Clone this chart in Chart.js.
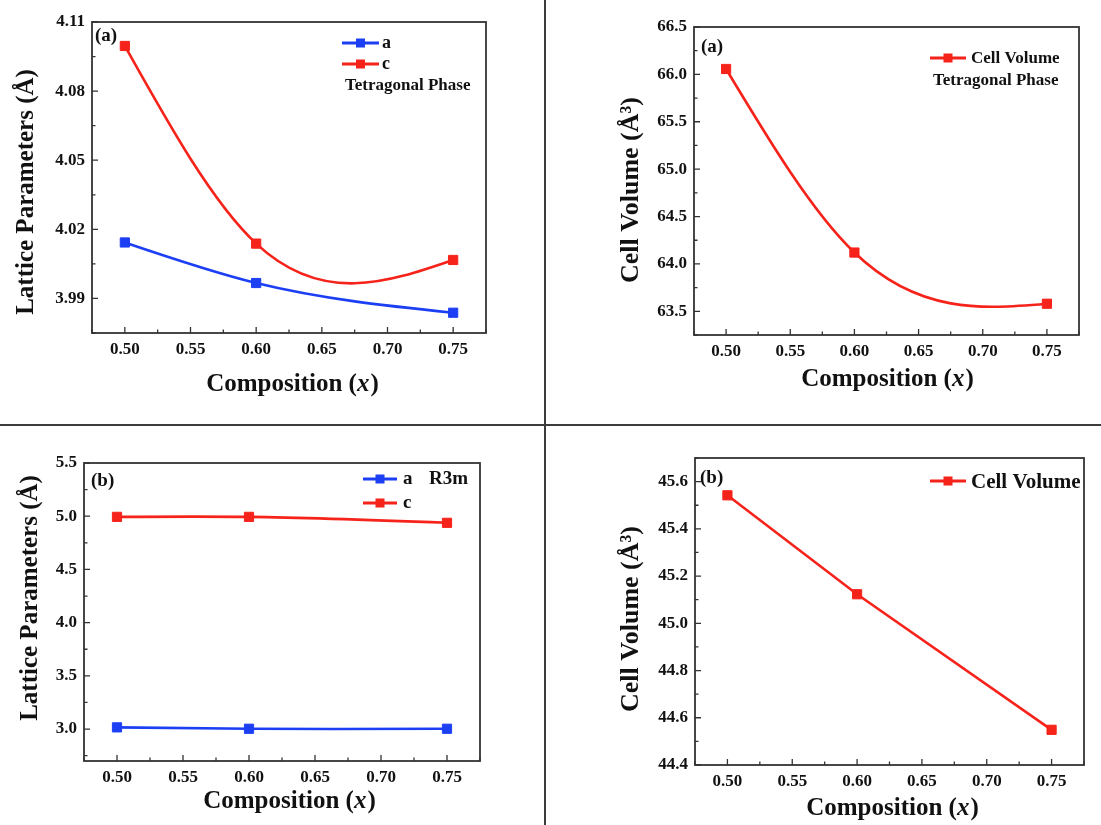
<!DOCTYPE html>
<html>
<head>
<meta charset="utf-8">
<script src="https://cdn.jsdelivr.net/npm/chart.js@4/dist/chart.umd.min.js"></script>
<style>
  html, body { margin: 0; padding: 0; background: #fff; }
  #page { position: relative; width: 1101px; height: 825px; overflow: hidden; }
  canvas { position: absolute; left: 0; top: 0; }
  .vline { position: absolute; left: 544px; top: 0; width: 2px; height: 825px; background: #3c3c3c; }
  .hline { position: absolute; left: 0; top: 424px; width: 1101px; height: 2px; background: #3c3c3c; }
</style>
</head>
<body>
<div id="page">
  <canvas id="c1" width="1101" height="825"></canvas>
  <canvas id="c2" width="1101" height="825"></canvas>
  <canvas id="c3" width="1101" height="825"></canvas>
  <canvas id="c4" width="1101" height="825"></canvas>
  <div class="vline"></div>
  <div class="hline"></div>
</div>
<script>
// values
const composition = [0.50, 0.60, 0.75];

const tetraA = [4.0143, 3.9967, 3.9838];
const tetraC = [4.0996, 4.0138, 4.0067];
const tetraVolume = [66.057, 64.12, 63.58];

const rhombA = [3.016, 3.003, 3.003];
const rhombC = [4.994, 4.994, 4.938];
const rhombVolume = [45.542, 45.123, 44.549];

const xTicks = [0.50, 0.55, 0.60, 0.65, 0.70, 0.75];
const yTicksTetraLat = [3.99, 4.02, 4.05, 4.08, 4.11];
const yTicksTetraVol = [63.5, 64.0, 64.5, 65.0, 65.5, 66.0, 66.5];
const yTicksRhombLat = [3.0, 3.5, 4.0, 4.5, 5.0, 5.5];
const yTicksRhombVol = [44.4, 44.6, 44.8, 45.0, 45.2, 45.4, 45.6];

const blue = '#1c3ff4';
const red = '#f6231b';
const ink = '#111';
const frame = '#333';
const serif = '"Liberation Serif", "Times New Roman", serif';

Chart.defaults.font.family = serif;
Chart.defaults.font.weight = 'bold';
Chart.defaults.color = ink;

function pts(ys) {
  return composition.map((x, i) => ({ x: x, y: ys[i] }));
}

function series(label, ys, color, spline) {
  return {
    label: label, data: pts(ys),
    borderColor: color, backgroundColor: color,
    borderWidth: 2.6, tension: spline ? 0.4 : 0, naturalSpline: spline,
    pointStyle: 'rect', pointRadius: 6.5, pointBorderWidth: 1,
    pointBorderColor: color, pointBackgroundColor: color
  };
}

// slopes of a natural cubic spline at the nodes (Origin's "spline" connection)
function splineSlopes(x, y) {
  const n = x.length;
  const h = [];
  for (let i = 0; i < n - 1; i++) h.push(x[i + 1] - x[i]);
  const M = new Array(n).fill(0);
  if (n > 2) {
    const a = [], b = [], c = [], r = [];
    for (let i = 1; i < n - 1; i++) {
      a.push(h[i - 1]); b.push(2 * (h[i - 1] + h[i])); c.push(h[i]);
      r.push(6 * ((y[i + 1] - y[i]) / h[i] - (y[i] - y[i - 1]) / h[i - 1]));
    }
    const m = b.length;
    for (let i = 1; i < m; i++) {
      const k = a[i] / b[i - 1];
      b[i] -= k * c[i - 1];
      r[i] -= k * r[i - 1];
    }
    const sol = new Array(m);
    sol[m - 1] = r[m - 1] / b[m - 1];
    for (let i = m - 2; i >= 0; i--) sol[i] = (r[i] - c[i] * sol[i + 1]) / b[i];
    for (let i = 0; i < m; i++) M[i + 1] = sol[i];
  }
  return x.map((_, i) => {
    if (i < n - 1) return (y[i + 1] - y[i]) / h[i] - h[i] * (2 * M[i] + M[i + 1]) / 6;
    return (y[i] - y[i - 1]) / h[i - 1] + h[i - 1] * (M[i - 1] + 2 * M[i]) / 6;
  });
}

// replace Chart.js bezier control points by the natural spline ones
const naturalSpline = {
  id: 'naturalSpline',
  beforeDatasetDraw(chart, args) {
    const ds = chart.data.datasets[args.index];
    if (!ds.naturalSpline) return;
    const meta = args.meta;
    const line = meta.dataset;
    if (line.updateControlPoints) line.updateControlPoints(chart.chartArea, 'x');
    line._pointsUpdated = true;
    const xs = ds.data.map(p => p.x);
    const ys = ds.data.map(p => p.y);
    const m = splineSlopes(xs, ys);
    const sx = chart.scales.x, sy = chart.scales.y;
    const n = xs.length;
    meta.data.forEach((pt, i) => {
      if (i > 0) {
        const d = (xs[i] - xs[i - 1]) / 3;
        pt.cp1x = sx.getPixelForValue(xs[i] - d);
        pt.cp1y = sy.getPixelForValue(ys[i] - m[i] * d);
      }
      if (i < n - 1) {
        const d = (xs[i + 1] - xs[i]) / 3;
        pt.cp2x = sx.getPixelForValue(xs[i] + d);
        pt.cp2y = sy.getPixelForValue(ys[i] + m[i] * d);
      }
    });
  }
};

function drawInwardTicks(ctx, scale, area, isX) {
  const major = scale.ticks.map(t => t.value);
  const step = major[1] - major[0];
  ctx.beginPath();
  major.forEach(v => {
    const p = scale.getPixelForValue(v);
    if (isX) { ctx.moveTo(p, area.bottom); ctx.lineTo(p, area.bottom - 6); }
    else { ctx.moveTo(area.left, p); ctx.lineTo(area.left + 6, p); }
  });
  for (let v = major[0] - step / 2; v < scale.max + 1e-9; v += step) {
    if (v < scale.min - 1e-9) continue;
    const p = scale.getPixelForValue(v);
    if (isX) { ctx.moveTo(p, area.bottom); ctx.lineTo(p, area.bottom - 3.5); }
    else { ctx.moveTo(area.left, p); ctx.lineTo(area.left + 3.5, p); }
  }
  ctx.stroke();
}

// frame, inward ticks, axis titles, legend and notes
const decorate = {
  id: 'decorate',
  afterDraw(chart, args, o) {
    const ctx = chart.ctx;
    const area = chart.chartArea;
    ctx.save();
    ctx.strokeStyle = frame;
    ctx.lineWidth = 1.8;
    ctx.strokeRect(area.left, area.top, area.right - area.left, area.bottom - area.top);
    ctx.lineWidth = 1.3;
    drawInwardTicks(ctx, chart.scales.x, area, true);
    drawInwardTicks(ctx, chart.scales.y, area, false);

    ctx.fillStyle = ink;
    // x title with italic x
    const f = 'bold ' + o.xTitle.size + 'px ' + serif;
    const fi = 'italic bold ' + o.xTitle.size + 'px ' + serif;
    ctx.font = f;
    const w1 = ctx.measureText('Composition (').width;
    const w3 = ctx.measureText(')').width;
    ctx.font = fi;
    const w2 = ctx.measureText('x').width;
    let x0 = o.xTitle.cx - (w1 + w2 + w3) / 2;
    ctx.textBaseline = 'alphabetic';
    ctx.textAlign = 'left';
    ctx.font = f; ctx.fillText('Composition (', x0, o.xTitle.y);
    ctx.font = fi; ctx.fillText('x', x0 + w1, o.xTitle.y);
    ctx.font = f; ctx.fillText(')', x0 + w1 + w2 + 1, o.xTitle.y);

    // y title
    ctx.save();
    ctx.translate(o.yTitle.cx, o.yTitle.cy);
    ctx.rotate(-Math.PI / 2);
    ctx.font = 'bold ' + o.yTitle.size + 'px ' + serif;
    ctx.textAlign = 'center';
    ctx.textBaseline = 'middle';
    ctx.fillText(o.yTitle.text, 0, 0);
    ctx.restore();

    // legend
    const lg = o.legend;
    lg.rows.forEach(r => {
      const ds = chart.data.datasets[r.ds];
      ctx.strokeStyle = ds.borderColor;
      ctx.lineWidth = 3;
      ctx.beginPath();
      ctx.moveTo(lg.x1, r.y); ctx.lineTo(lg.x2, r.y);
      ctx.stroke();
      ctx.fillStyle = ds.borderColor;
      ctx.fillRect((lg.x1 + lg.x2) / 2 - 4.5, r.y - 4.5, 9, 9);
      ctx.fillStyle = ink;
      ctx.font = 'bold ' + lg.size + 'px ' + serif;
      ctx.textAlign = 'left';
      ctx.textBaseline = 'alphabetic';
      ctx.fillText(ds.label, lg.tx, r.y + lg.dy);
    });
    (o.notes || []).forEach(n => {
      ctx.font = 'bold ' + n.size + 'px ' + serif;
      ctx.textAlign = 'left';
      ctx.textBaseline = 'alphabetic';
      ctx.fillText(n.text, n.x, n.y);
    });
    ctx.restore();
  }
};

function makeChart(id, box, yRange, yTicks, yDigits, datasets, deco) {
  return new Chart(document.getElementById(id), {
    type: 'line',
    data: { datasets: datasets },
    plugins: [naturalSpline, decorate],
    options: {
      responsive: false,
      animation: false,
      layout: { padding: { left: box.l - 60, right: 1101 - box.r, top: box.t, bottom: 825 - box.b - 40 } },
      plugins: { legend: { display: false }, tooltip: { enabled: false }, decorate: deco },
      scales: {
        x: {
          type: 'linear', min: 0.475, max: 0.775,
          afterBuildTicks: s => { s.ticks = xTicks.map(v => ({ value: v })); },
          afterFit: s => { s.height = 40; },
          grid: { display: false, drawTicks: false },
          border: { display: false },
          ticks: { padding: 6, font: { size: 17, weight: 'bold' }, color: ink, callback: v => v.toFixed(2) }
        },
        y: {
          type: 'linear', min: yRange[0], max: yRange[1],
          afterBuildTicks: s => { s.ticks = yTicks.map(v => ({ value: v })); },
          afterFit: s => { s.width = 60; },
          grid: { display: false, drawTicks: false },
          border: { display: false },
          ticks: { padding: 7, font: { size: 17, weight: 'bold' }, color: ink, callback: v => v.toFixed(yDigits) }
        }
      }
    }
  });
}

makeChart('c1', { l: 92, r: 486, t: 22, b: 333 }, [3.975, 4.11], yTicksTetraLat, 2,
  [series('a', tetraA, blue, true), series('c', tetraC, red, true)],
  {
    xTitle: { cx: 292, y: 391, size: 25 },
    yTitle: { cx: 27, cy: 192, size: 25, text: 'Lattice Parameters (Å)' },
    legend: { x1: 342, x2: 379, tx: 382, dy: 5, size: 18, rows: [{ ds: 0, y: 43 }, { ds: 1, y: 64 }] },
    notes: [{ text: 'Tetragonal Phase', x: 345, y: 90, size: 17 }, { text: '(a)', x: 95, y: 41, size: 19 }]
  });

makeChart('c2', { l: 694, r: 1079, t: 27, b: 335 }, [63.25, 66.5], yTicksTetraVol, 1,
  [series('Cell Volume', tetraVolume, red, true)],
  {
    xTitle: { cx: 887, y: 386, size: 25 },
    yTitle: { cx: 631, cy: 190, size: 26, text: 'Cell Volume (Å³)' },
    legend: { x1: 930, x2: 966, tx: 971, dy: 5, size: 17, rows: [{ ds: 0, y: 58 }] },
    notes: [{ text: 'Tetragonal Phase', x: 933, y: 85, size: 17 }, { text: '(a)', x: 701, y: 52, size: 19 }]
  });

makeChart('c3', { l: 84, r: 480, t: 463, b: 761 }, [2.7, 5.5], yTicksRhombLat, 1,
  [series('a', rhombA, blue, true), series('c', rhombC, red, true)],
  {
    xTitle: { cx: 289, y: 808, size: 25 },
    yTitle: { cx: 31, cy: 598, size: 25, text: 'Lattice Parameters (Å)' },
    legend: { x1: 363, x2: 397, tx: 403, dy: 5, size: 19, rows: [{ ds: 0, y: 479 }, { ds: 1, y: 503 }] },
    notes: [{ text: 'R3m', x: 429, y: 484, size: 19 }, { text: '(b)', x: 91, y: 486, size: 19 }]
  });

makeChart('c4', { l: 695, r: 1084, t: 458, b: 765 }, [44.4, 45.7], yTicksRhombVol, 1,
  [series('Cell Volume', rhombVolume, red, false)],
  {
    xTitle: { cx: 892, y: 815, size: 25 },
    yTitle: { cx: 631, cy: 619, size: 26, text: 'Cell Volume (Å³)' },
    legend: { x1: 930, x2: 966, tx: 971, dy: 7, size: 21, rows: [{ ds: 0, y: 481 }] },
    notes: [{ text: '(b)', x: 700, y: 483, size: 19 }]
  });
</script>
</body>
</html>
